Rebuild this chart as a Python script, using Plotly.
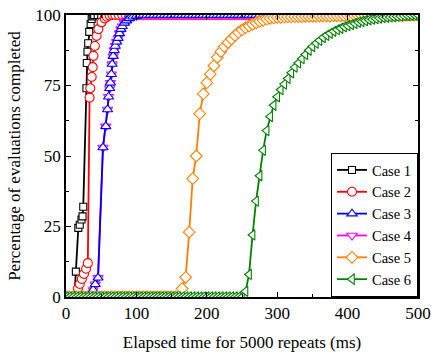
import plotly.graph_objects as go

# ---- data (elapsed time in ms, percentage completed) ----
CASE1_X = [0, 5, 10, 12, 14, 17.5, 19.5, 22, 23.5, 24.5, 29, 29.5, 30.5, 31.5, 33, 35, 36.5, 38, 40,
           45, 50, 55, 60, 65, 70, 75, 80, 85, 90, 95, 100, 105, 110, 115, 120, 125, 130, 135, 140,
           145, 150, 155, 160, 165, 170, 175, 180, 185, 190, 195, 200, 205, 210, 215, 220, 225, 230,
           235, 240, 245, 250, 255, 260, 265, 270, 275, 280]
CASE1_Y = [0, 0, 0, 0, 9, 24.5, 25.6, 27.5, 28.6, 32, 74, 83, 87, 90, 94, 96.8, 98.6, 99.5, 100,
           100, 100, 100, 100, 100, 100, 100, 100, 100, 100, 100, 100, 100, 100, 100, 100, 100, 100,
           100, 100, 100, 100, 100, 100, 100, 100, 100, 100, 100, 100, 100, 100, 100, 100, 100, 100,
           100, 100, 100, 100, 100, 100, 100, 100, 100, 100, 100, 100]

CASE2_X = [0, 5, 10, 15, 17, 19.5, 22.5, 25.5, 28.5, 31, 33.5, 34.5, 36.5, 38, 39, 41, 43.5, 46, 50.5,
           55, 58, 62, 66, 70, 75, 80, 85, 90, 95, 100, 105, 110, 115, 120, 125, 130, 135, 140, 145,
           150, 155, 160, 165, 170, 175, 180, 185, 190, 195, 200, 205, 210, 215, 220, 225, 230, 235,
           240, 245, 250, 255, 260, 265, 270, 275, 280]
CASE2_Y = [0, 0, 0, 0, 3, 4.6, 6.4, 8.2, 10, 12, 70.7, 74, 78, 81.5, 85.5, 89, 92.6, 95, 97.4,
           98.8, 99.4, 99.8, 100, 100, 100, 100, 100, 100, 100, 100, 100, 100, 100, 100, 100, 100,
           100, 100, 100, 100, 100, 100, 100, 100, 100, 100, 100, 100, 100, 100, 100, 100, 100, 100,
           100, 100, 100, 100, 100, 100, 100, 100, 100, 100, 100, 100]

CASE3_X = [0, 5, 10, 15, 20, 25, 30, 35, 38.5, 41.5, 45.5, 52.5, 56.5, 59, 60.5, 62, 63, 64.5, 65.5,
           67, 68.5, 70, 72, 74, 76, 78, 80, 83, 86, 90, 95, 100, 105, 110, 115, 120, 125, 130, 135,
           140, 145, 150, 155, 160, 165, 170, 175, 180, 185, 190, 195, 200, 205, 210, 215, 220, 225,
           230, 235, 240, 245, 250, 255, 260, 265, 270, 275, 280]
CASE3_Y = [0, 0, 0, 0, 0, 0, 0, 0, 2.5, 4.5, 6.8, 53, 60.5, 66.5, 71, 74, 76, 79, 82.6,
           85.4, 87.5, 89, 90.5, 91.8, 93.5, 95, 96, 97.2, 98, 98.8, 99.4, 99.7, 100, 100, 100, 100,
           100, 100, 100, 100, 100, 100, 100, 100, 100, 100, 100, 100, 100, 100, 100, 100, 100, 100,
           100, 100, 100, 100, 100, 100, 100, 100, 100, 100, 100, 100, 100, 100]

# Case 4 coincides with Case 3 (hidden beneath it in the reference)
CASE4_X = CASE3_X
CASE4_Y = CASE3_Y

CASE56_X = [0, 5, 10, 15, 20, 25, 30, 35, 40, 45, 50, 55, 60, 65, 70, 75, 80, 85, 90, 95, 100,
            105, 110, 115, 120, 125, 130, 135, 140, 145, 150, 155, 160, 165, 170, 175, 180, 185,
            190, 195, 200, 205, 210, 215, 220, 225, 230, 235, 240, 245, 250, 255, 260, 265, 270,
            275, 280, 285, 290, 295, 300, 305, 310, 315, 320, 325, 330, 335, 340, 345, 350, 355,
            360, 365, 370, 375, 380, 385, 390, 395, 400, 405, 410, 415, 420, 425, 430, 435, 440,
            445, 450, 455, 460, 465, 470, 475, 480, 485, 490, 495, 500]
CASE5_Y = [0, 0, 0, 0, 0, 0, 0, 0, 0, 0, 0, 0, 0, 0, 0, 0, 0, 0, 0, 0, 0,
           0, 0, 0, 0, 0, 0, 0, 0, 0, 0, 0, 0, 3, 7, 23, 42, 50,
           65, 72, 76, 79, 82, 85, 87, 88.8, 90.2, 91.5, 92.7, 93.8, 94.7, 95.5, 96.1, 96.7, 97.2,
           97.7, 98.1, 98.5, 98.8, 99.0, 99.2, 99.2, 99.3, 99.3, 99.3, 99.4, 99.4, 99.4, 99.5, 99.5, 99.5, 99.5,
           99.6, 99.6, 99.6, 99.6, 99.7, 99.7, 99.7, 99.7, 99.8, 99.8, 99.8, 99.8, 99.8, 99.9, 99.9, 99.9, 99.9,
           99.9, 99.9, 100, 100, 100, 100, 100, 100, 100, 100, 100, 100]
CASE6_Y = [0, 0, 0, 0, 0, 0, 0, 0, 0, 0, 0, 0, 0, 0, 0, 0, 0, 0, 0, 0, 0,
           0, 0, 0, 0, 0, 0, 0, 0, 0, 0, 0, 0, 0, 0, 0, 0, 0,
           0, 0, 0, 0, 0, 0, 0, 0, 0, 0, 0, 0, 0, 2, 8, 22, 34,
           43, 52, 59, 64, 68, 71, 73.5, 75.5, 77.5, 79.5, 81.5, 83, 84.5, 86, 87.5, 88.8, 90,
           91, 92, 92.8, 93.5, 94.2, 94.8, 95.3, 95.8, 96.2, 96.6, 97, 97.4, 97.7, 98, 98.3, 98.5, 98.7,
           98.9, 99.1, 99.2, 99.3, 99.4, 99.5, 99.6, 99.7, 99.8, 99.9, 100, 100]

NAMES = ["Case 1", "Case 2", "Case 3", "Case 4", "Case 5", "Case 6"]
COLORS = ["#000000", "#FF0000", "#0000FF", "#FF00FF", "#FF8000", "#008000"]
SYMBOLS = ["square", "circle", "triangle-up", "triangle-down", "diamond", "triangle-left"]
SIZES = [7, 9, 9, 9, 9, 9]
X_TICKS = [0, 100, 200, 300, 400, 500]
Y_TICKS = [0, 25, 50, 75, 100]

SERIES = [(CASE1_X, CASE1_Y), (CASE2_X, CASE2_Y), (CASE3_X, CASE3_Y),
          (CASE4_X, CASE4_Y), (CASE56_X, CASE5_Y), (CASE56_X, CASE6_Y)]
DRAW_ORDER = [0, 1, 3, 2, 4, 5]

FONT = "Liberation Serif"

fig = go.Figure()
for i in DRAW_ORDER:
    xs, ys = SERIES[i]
    fig.add_trace(go.Scatter(
        x=xs, y=ys, name=NAMES[i], mode="lines+markers",
        line=dict(color=COLORS[i], width=1.8),
        marker=dict(symbol=SYMBOLS[i], size=SIZES[i], color="white",
                    line=dict(color=COLORS[i], width=1.1)),
        legendrank=i + 1, cliponaxis=True,
    ))

axis_common = dict(
    showline=True, linecolor="black", linewidth=1.5, mirror="ticks",
    ticks="inside", ticklen=5, tickwidth=1, tickcolor="black",
    showgrid=False, zeroline=False, automargin=False,
    ticklabeloverflow="allow",
    tickfont=dict(family=FONT, size=17, color="black"),
)

fig.update_xaxes(range=[0, 500], tickvals=X_TICKS,
                 minor=dict(dtick=50, ticks="inside", ticklen=3, tickcolor="black"),
                 title=dict(text="Elapsed time for 5000 repeats (ms)",
                            font=dict(family=FONT, size=17, color="black"), standoff=14),
                 **axis_common)
fig.update_yaxes(range=[0, 100], tickvals=Y_TICKS,
                 minor=dict(dtick=12.5, ticks="inside", ticklen=3, tickcolor="black"),
                 title=dict(text="Percentage of evaluations completed",
                            font=dict(family=FONT, size=17, color="black"), standoff=10),
                 **axis_common)

fig.update_layout(
    width=431, height=353,
    margin=dict(l=66, r=13, t=15, b=56),
    plot_bgcolor="white", paper_bgcolor="white",
    font=dict(family=FONT, size=15, color="black"),
    legend=dict(x=1, y=0, xanchor="right", yanchor="bottom",
                bgcolor="white", bordercolor="black", borderwidth=1,
                font=dict(family=FONT, size=14.5, color="black"),
                tracegroupgap=0, itemwidth=30),
    showlegend=True,
)

# remove the default 8px body margin so the figure sits at the page origin
fig.write_html("out.html",
               config={"displayModeBar": False},
               post_script="document.body.style.margin='0';document.body.style.overflow='hidden';")
